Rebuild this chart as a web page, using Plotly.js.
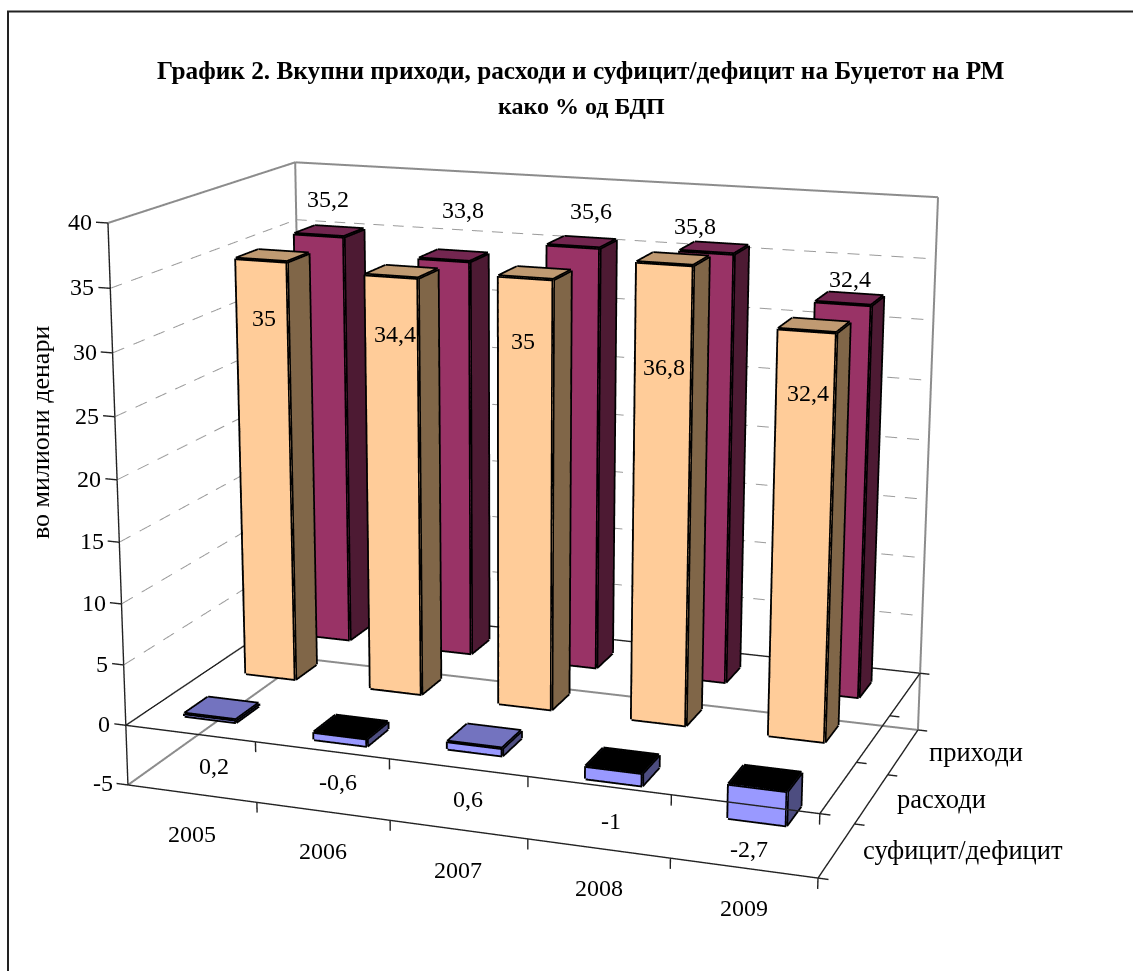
<!DOCTYPE html>
<html>
<head>
<meta charset="utf-8">
<script src="https://cdn.plot.ly/plotly-3.0.1.min.js"></script>
<style>
html,body{margin:0;padding:0;background:#fff;overflow:hidden;width:1133px;height:971px}
#chart{position:absolute;left:-649px;top:-704px;width:2360px;height:2360px}
</style>
</head>
<body>
<div id="chart"></div>
<script>
// ---------- data ----------
var years = ['2005','2006','2007','2008','2009'];
var seriesNames = ['суфицит/дефицит','расходи','приходи'];
var balance = [0.2,-0.6,0.6,-1,-2.7];
var expenditure = [35,34.4,35,36.8,32.4];
var revenue = [35.2,33.8,35.6,35.8,32.4];
var zTicks = [-5,0,5,10,15,20,25,30,35,40];
var titleLines = ['График 2. Вкупни приходи, расходи и суфицит/дефицит на Буџетот на РМ','како % од БДП'];
var yTitle = 'во милиони денари';

// ---------- styling ----------
var FONT = 'Liberation Serif';
var OX = 649, OY = 704, S = 2360;
function px(x){return (x+OX)/S;}
function py(y){return 1-(y+OY)/S;}
function fmt(v){return String(v).replace('.',',');}
var rows = [
 {vals:balance, front:'#9999FF', side:'#4D4D80', top:'#7373BF', lx:[-8,-13,-17,-12,-16], ly:[-57,-55,-63,-60,-71]},
 {vals:expenditure, front:'#FFCC99', side:'#806648', top:'#C09A72', lx:[-9,-7,-12,-9,-6], ly:[-62,-62,-68,-108,-67]},
 {vals:revenue, front:'#993366', side:'#4D1A33', top:'#732650', lx:[-1,9,9,-19,0], ly:[32,46,31,22,20]}
];
var BW = 0.4, BD = 0.37;
var traces = [];
function lines(segs,color,width){
  var X=[],Y=[],Z=[];
  segs.forEach(function(s){X.push(s[0],s[3],null);Y.push(s[1],s[4],null);Z.push(s[2],s[5],null);});
  traces.push({type:'scatter3d',mode:'lines',x:X,y:Y,z:Z,hoverinfo:'skip',showlegend:false,
    line:{color:color,width:width}});
}
function dashes(a,b,n){
  var out=[];
  for(var k=0;k<n;k++){
    var t0=k/n,t1=(k+0.55)/n;
    out.push([a[0]+(b[0]-a[0])*t0,a[1]+(b[1]-a[1])*t0,a[2]+(b[2]-a[2])*t0,
              a[0]+(b[0]-a[0])*t1,a[1]+(b[1]-a[1])*t1,a[2]+(b[2]-a[2])*t1]);
  }
  return out;
}
var annots = [];
function sceneLabel(x,y,z,text,xs,ys,anchor,size){
  annots.push({x:x,y:y,z:z,text:text,showarrow:false,xshift:xs,yshift:ys,xanchor:anchor||'center',yanchor:'middle',
    font:{family:FONT,size:size||24,color:'#000'}});
}
// bars
rows.forEach(function(r,ri){
  r.vals.forEach(function(v,i){
    var x0=i+0.5-BW/2,x1=i+0.5+BW/2,y0=ri+0.5-BD/2,y1=ri+0.5+BD/2,z0=Math.min(0,v),z1=Math.max(0,v);
    var topColor = v<0 ? '#000000' : r.top;
    traces.push({type:'mesh3d',hoverinfo:'skip',showlegend:false,flatshading:true,showscale:false,
      lighting:{ambient:1,diffuse:0,specular:0,fresnel:0,roughness:1},
      x:[x0,x1,x1,x0,x0,x1,x1,x0],y:[y0,y0,y1,y1,y0,y0,y1,y1],z:[z0,z0,z0,z0,z1,z1,z1,z1],
      i:[0,0,1,1,4,4,2,2,3,3,0,0],j:[1,5,2,6,5,6,3,7,0,4,1,2],k:[5,4,6,5,6,7,7,6,4,7,2,3],
      facecolor:[r.front,r.front,r.side,r.side,topColor,topColor,r.side,r.side,r.side,r.side,r.side,r.side]});
    lines([
      [x0,y0,z0,x1,y0,z0],[x1,y0,z0,x1,y1,z0],[x1,y1,z0,x0,y1,z0],[x0,y1,z0,x0,y0,z0],
      [x0,y0,z1,x1,y0,z1],[x1,y0,z1,x1,y1,z1],[x1,y1,z1,x0,y1,z1],[x0,y1,z1,x0,y0,z1],
      [x0,y0,z0,x0,y0,z1],[x1,y0,z0,x1,y0,z1],[x1,y1,z0,x1,y1,z1],[x0,y1,z0,x0,y1,z1]
    ],'#000',7);
    sceneLabel(i+0.5,ri+0.5,Math.max(v,0),fmt(v),r.lx[i],r.ly[i]);
  });
});
var XN=years.length, YN=seriesNames.length, ZLO=zTicks[0], ZHI=zTicks[zTicks.length-1];
// walls and floor (grey)
lines([[0,0,ZHI,0,YN,ZHI],[0,YN,ZHI,XN,YN,ZHI],[0,YN,ZLO,0,YN,ZHI],[XN,YN,ZLO,XN,YN,ZHI],
       [0,0,ZLO,0,YN,ZLO],[0,YN,ZLO,XN,YN,ZLO]],'#8c8c8c',4);
// gridlines
var gridSegs=[];
zTicks.forEach(function(z){
  if(z>0&&z<ZHI){
    gridSegs=gridSegs.concat(dashes([0,0,z],[0,YN,z],10),dashes([0,YN,z],[XN,YN,z],31));
  }
});
lines(gridSegs,'#9a9a9a',2);
// black axes
var axisSegs=[[0,0,ZLO,0,0,ZHI],[0,0,ZLO,XN,0,ZLO],[XN,0,ZLO,XN,YN,ZLO],
  [0,0,0,XN,0,0],[XN,0,0,XN,YN,0],[XN,YN,0,0,YN,0],[0,YN,0,0,0,0]];
zTicks.forEach(function(z){axisSegs.push([0,0,z,-0.09,0,z]);});
for(var i=1;i<=XN;i++){axisSegs.push([i,0,0,i,0,-0.85]);axisSegs.push([i,0,ZLO,i,0,ZLO-0.85]);}
for(var j=0;j<=YN;j++){axisSegs.push([XN,j,0,XN+0.07,j,0]);axisSegs.push([XN,j,ZLO,XN+0.07,j,ZLO]);}
lines(axisSegs,'#222',2.8);
// tick labels
zTicks.forEach(function(z){sceneLabel(-0.09,0,z,String(z),-2,0,'right');});
years.forEach(function(y,i){sceneLabel(i+0.5,0,ZLO,y,0,-40);});
seriesNames.forEach(function(n,i){sceneLabel(XN,i+0.5,ZLO,n,24,0,'left',26.5);});

var paperAnn = [
  {xref:'paper',yref:'paper',x:px(581),y:py(70),text:titleLines[0],showarrow:false,xanchor:'center',yanchor:'middle',
   font:{family:FONT,size:25.3,color:'#000',weight:'bold'}},
  {xref:'paper',yref:'paper',x:px(581),y:py(106),text:titleLines[1],showarrow:false,xanchor:'center',yanchor:'middle',
   font:{family:FONT,size:24,color:'#000',weight:'bold'}},
  {xref:'paper',yref:'paper',x:px(40),y:py(433),text:yTitle,showarrow:false,textangle:-90,xanchor:'center',yanchor:'middle',
   font:{family:FONT,size:26,color:'#000'}}
];
var layout = {
  width:S,height:S,margin:{l:0,r:0,t:0,b:0,pad:0},paper_bgcolor:'#fff',showlegend:false,
  annotations:paperAnn,
  shapes:[{type:'rect',xref:'paper',yref:'paper',x0:px(8),x1:px(1200),y0:py(11.5),y1:py(1100),line:{color:'#222',width:2},fillcolor:'rgba(0,0,0,0)'}],
  scene:{
    domain:{x:[0,1],y:[0,1]},dragmode:false,bgcolor:'rgba(0,0,0,0)',
    aspectmode:'manual',aspectratio:{x:0.7427,y:0.5031,z:0.6611},
    xaxis:{range:[-0.5,XN+0.5],visible:false},
    yaxis:{range:[-0.5,YN+0.5],visible:false},
    zaxis:{range:[ZLO-7.5,ZHI+7.5],visible:false},
    camera:{eye:{x:0.8099,y:-2.2778,z:0.6345},center:{x:-0.0039,y:0.0017,z:0.0119},up:{x:-0.0855,y:0.234,z:0.9685},
      projection:{type:'perspective'}},
    annotations:annots
  }
};
Plotly.newPlot('chart',traces,layout,{displayModeBar:false,responsive:false});
</script>
</body>
</html>
